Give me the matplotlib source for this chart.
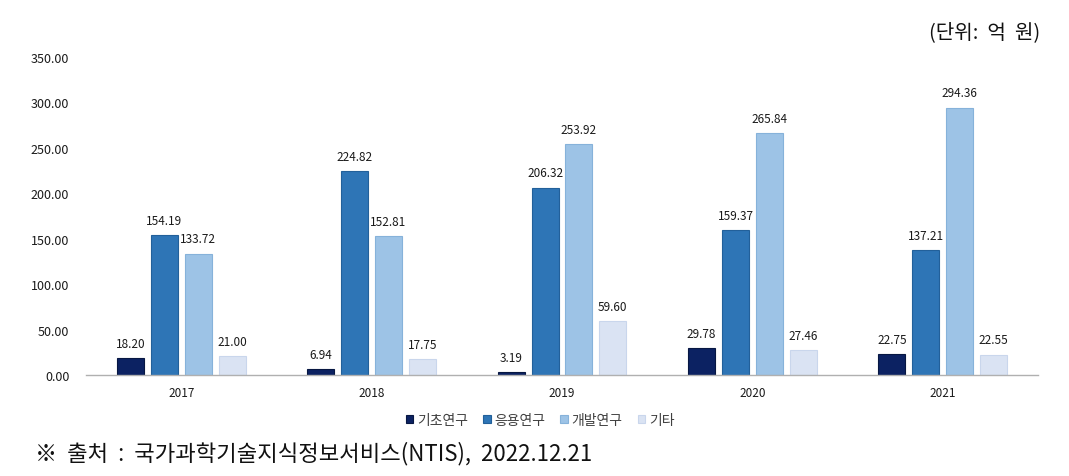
import numpy as np
import matplotlib
matplotlib.use("Agg")
import matplotlib.pyplot as plt

plt.rcParams["font.family"] = ["Noto Sans CJK KR", "DejaVu Sans"]

# ----------------------
# DATA (단위: 억 원)
# ----------------------
years = ["2017", "2018", "2019", "2020", "2021"]
series_names = ["기초연구", "응용연구", "개발연구", "기타"]
basic = [18.20, 6.94, 3.19, 29.78, 22.75]
applied = [154.19, 224.82, 206.32, 159.37, 137.21]
development = [133.72, 152.81, 253.92, 265.84, 294.36]
other = [21.00, 17.75, 59.60, 27.46, 22.55]
yticks = [0, 50, 100, 150, 200, 250, 300, 350]

colors = ["#0c2262", "#2e75b6", "#9dc3e6", "#dae3f3"]
edges = ["#071742", "#22609a", "#86b2da", "#c9d6ec"]

# ----------------------
# PLOT
# ----------------------
fig = plt.figure(figsize=(10.69, 4.77), dpi=100)
ax = fig.add_axes([86 / 1069, 101 / 477, 952 / 1069, 318 / 477])

x = np.arange(len(years))
width = 0.142
step = 0.178
for i, (name, vals) in enumerate(zip(series_names, [basic, applied, development, other])):
    pos = x + (i - 1.5) * step
    bars = ax.bar(pos, vals, width, color=colors[i], edgecolor=edges[i],
                  linewidth=0.8, label=name)
    for b, v in zip(bars, vals):
        ax.text(b.get_x() + b.get_width() / 2, v + 9, f"{v:.2f}",
                ha="center", va="bottom", fontsize=8.5, color="#1a1a1a")

ax.set_xlim(-0.5, len(years) - 0.5)
ax.set_ylim(0, 350)
ax.set_xticks(x)
ax.set_xticklabels(years, fontsize=8.5, color="#1a1a1a")
ax.set_yticks(yticks)
ax.set_yticklabels([f"{t:.2f}" for t in yticks], fontsize=9, color="#1a1a1a")
ax.tick_params(axis="both", length=0)
ax.tick_params(axis="y", pad=12)
ax.tick_params(axis="x", pad=8)
for s in ["top", "right", "left"]:
    ax.spines[s].set_visible(False)
ax.spines["bottom"].set_color("#b0b0b0")
ax.spines["bottom"].set_linewidth(1.0)

handles, labels = ax.get_legend_handles_labels()
leg = fig.legend(handles, labels, loc="center", bbox_to_anchor=(540 / 1069, 1 - 421 / 477),
                 ncol=4, frameon=False, fontsize=10, handlelength=0.55, handleheight=0.55,
                 handletextpad=0.25, columnspacing=1.1)
for t in leg.get_texts():
    t.set_color("#404040")

fig.text(1040 / 1069, 1 - 33 / 477, "(단위:  억  원)", ha="right", va="center",
         fontsize=14.5, color="#111111")
fig.text(35 / 1069, 1 - 454 / 477, "※  출처  :  국가과학기술지식정보서비스(NTIS),  2022.12.21",
         ha="left", va="center", fontsize=16, color="#111111")

fig.savefig("out.png", dpi=100)
